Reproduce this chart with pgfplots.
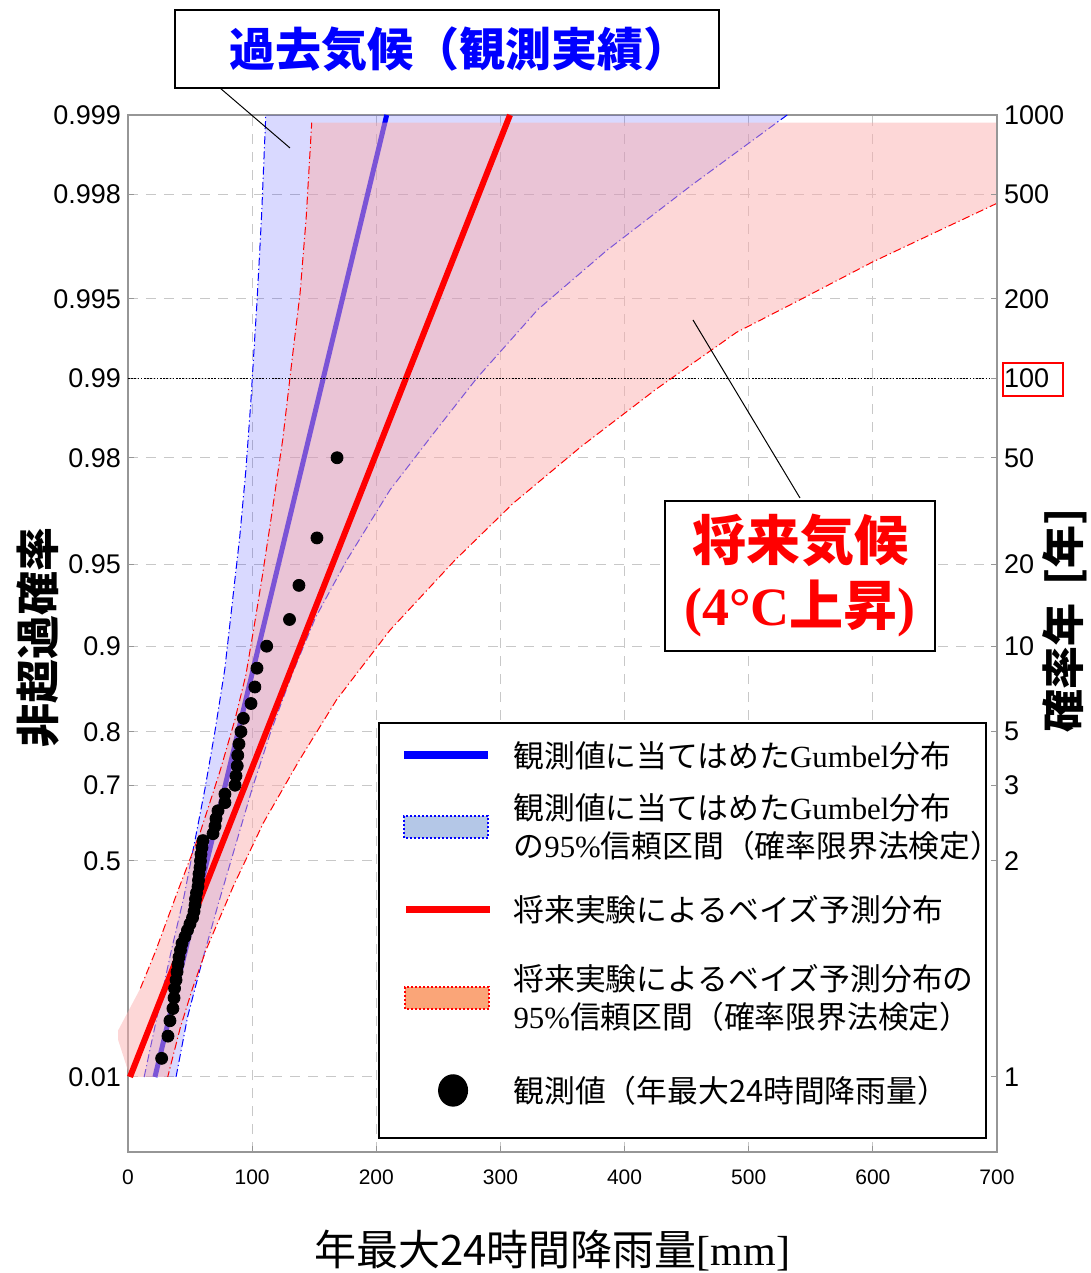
\documentclass[border=0pt]{standalone}
\usepackage{fontspec}
\setmainfont{Liberation Serif}
\setsansfont{Liberation Sans}
\newfontfamily\jp{Noto Sans CJK JP}
\usepackage{pgfplots}
\pgfplotsset{compat=1.18}
\definecolor{bandred}{RGB}{251,173,173}
\definecolor{gridgray}{RGB}{200,200,200}
\definecolor{framegray}{RGB}{150,150,150}
\definecolor{legblue}{RGB}{180,199,231}
\definecolor{legred}{RGB}{250,165,120}
\begin{document}
\begin{tikzpicture}
\begin{axis}[
  at={(0pt,0pt)}, anchor=south west,
  scale only axis, width=434.5pt, height=518.5pt,
  xmin=0, xmax=700, ymin=-2.185, ymax=6.9073,
  clip=false,
  axis line style={framegray, line width=0.7pt},
  xtick={0,100,200,300,400,500,600,700},
  xticklabels={0,100,200,300,400,500,600,700},
  ytick={-1.5272,0.3665,1.0309,1.4999,2.2504,2.9702,3.9019,4.6001,5.2958,6.2136,6.9073},
  yticklabels={0.01,0.5,0.7,0.8,0.9,0.95,0.98,0.99,0.995,0.998,0.999},
  xtick pos=bottom, ytick pos=left,
  tick style={framegray, line width=0.5pt},
  major tick length=3pt, tick align=inside,
  grid=major,
  major grid style={gridgray, dash pattern=on 5pt off 4pt, line width=0.5pt},
  xticklabel style={font=\fontsize{10.5}{12}\selectfont\sffamily, yshift=-5.5pt},
  yticklabel style={font=\fontsize{13.5}{14}\selectfont\sffamily},
  xlabel={\jp 年最大24時間降雨量{\rmfamily [mm]}},
  xlabel style={font=\fontsize{21}{24}\selectfont, inner sep=0pt, at={(axis description cs:0.488,-0.0955)}, anchor=center},
  ylabel={\jp\bfseries 非超過確率},
  ylabel style={font=\fontsize{22}{24}\selectfont, inner sep=0pt, at={(axis description cs:-0.1036,0.4966)}, anchor=center},
  legend style={
    at={(axis description cs:0.988,0.4147)}, anchor=north east,
    draw=black, line width=1pt, fill=white,
    inner sep=0pt, row sep=0pt, column sep=0pt,
    nodes={inner sep=0pt, text depth=, text height=, font=\fontsize{15.4}{19}\selectfont\jp},
    /tikz/every odd column/.style={column sep=10pt},
  },
  legend cell align=left,
]
% blue 95% band (observed Gumbel fit)
\addplot[forget plot, draw=none, fill=blue, fill opacity=0.15] coordinates {
(13,-1.5272) (28,-0.765) (35,-0.414) (45,0.05) (54,0.55) (62,1.0) (70,1.5) (78,2.05) (85,2.726) (90,3.207) (95,3.8) (99,4.4) (101.5,4.847) (104,5.285) (107.5,6.0) (111,6.9073)
(531,6.9073) (455,6.3) (386,5.723) (330,5.2) (281,4.6) (245,4.1) (211,3.619) (176,3.0) (151,2.5) (132,2.0) (115,1.5) (100,1.0) (86.5,0.5) (73,0.0) (60,-0.5) (48,-1.0) (38.7,-1.5272)
} -- cycle;
\addplot[forget plot, blue, line width=0.5pt, dash pattern=on 4pt off 1.5pt on 0.6pt off 1.5pt] coordinates {
(13,-1.5272) (28,-0.765) (35,-0.414) (45,0.05) (54,0.55) (62,1.0) (70,1.5) (78,2.05) (85,2.726) (90,3.207) (95,3.8) (99,4.4) (101.5,4.847) (104,5.285) (107.5,6.0) (111,6.9073)};
\addplot[forget plot, blue, line width=0.5pt, dash pattern=on 4pt off 1.5pt on 0.6pt off 1.5pt] coordinates {
(531,6.9073) (455,6.3) (386,5.723) (330,5.2) (281,4.6) (245,4.1) (211,3.619) (176,3.0) (151,2.5) (132,2.0) (115,1.5) (100,1.0) (86.5,0.5) (73,0.0) (60,-0.5) (48,-1.0) (38.7,-1.5272)};
% Gumbel fit line
\addplot[forget plot, blue, line width=2.5pt] coordinates {(21.7,-1.5272) (208.4,6.9073)};
% red 95% band (future)
\addplot[forget plot, draw=none, fill=bandred, fill opacity=0.49] coordinates {
(-8,-1.2) (-8,-1.12) (10,-0.75) (22,-0.43) (40,0.1) (58,0.612) (74,1.15) (86,1.6) (95,2.0) (102,2.45) (108,2.85) (115,3.35) (124.6,4.058) (133.1,4.847) (138.6,5.344) (143.5,6.0) (148,6.84)
(700,6.84) (700,6.133) (600,5.62) (541,5.285) (490,5.0) (425,4.5) (365,4.0) (310,3.5) (263,3.0) (211,2.39) (168,1.78) (138,1.25) (109,0.7) (85,0.15) (63,-0.41) (52,-0.75) (42,-1.1) (32,-1.5272) (1.6,-1.5272)
} -- cycle;
\addplot[forget plot, red, line width=0.5pt, dash pattern=on 4pt off 1.5pt on 0.6pt off 1.5pt] coordinates {
(10,-0.75) (22,-0.43) (40,0.1) (58,0.612) (74,1.15) (86,1.6) (95,2.0) (102,2.45) (108,2.85) (115,3.35) (124.6,4.058) (133.1,4.847) (138.6,5.344) (143.5,6.0) (148,6.84)};
\addplot[forget plot, red, line width=0.5pt, dash pattern=on 4pt off 1.5pt on 0.6pt off 1.5pt] coordinates {
(700,6.133) (600,5.62) (541,5.285) (490,5.0) (425,4.5) (365,4.0) (310,3.5) (263,3.0) (211,2.39) (168,1.78) (138,1.25) (109,0.7) (85,0.15) (63,-0.41) (52,-0.75) (42,-1.1) (32,-1.5272)};
% Bayesian predictive distribution line
\addplot[forget plot, red, line width=3pt] coordinates {(1.6,-1.5272) (307.7,6.9073)};
% 100-year line
\addplot[forget plot, black, line width=0.6pt, dash pattern=on 0.8pt off 0.8pt] coordinates {(0,4.6001) (700,4.6001)};
% observations (Weibull plotting position i/50)
\addplot[forget plot, only marks, mark=*, mark size=3pt, black] coordinates {
(27.1,-1.364) (32.2,-1.169) (33.8,-1.034) (36.2,-0.927) (37.1,-0.834) (37.5,-0.751) (38.7,-0.677) (39.5,-0.606) (40.3,-0.539) (41.1,-0.476)
(42.3,-0.415) (43.5,-0.356) (45.9,-0.298) (47.9,-0.241) (49.9,-0.186) (52.0,-0.131) (53.2,-0.076) (54.0,-0.021) (54.4,0.033) (55.2,0.087)
(56.4,0.142) (56.8,0.197) (57.2,0.253) (58.0,0.309) (58.4,0.367) (58.8,0.425) (59.6,0.484) (60.4,0.545) (68.5,0.606) (70.1,0.672)
(70.9,0.738) (72.5,0.807) (78.1,0.878) (78.1,0.953) (86.2,1.031) (87.0,1.113) (88.0,1.200) (88.4,1.293) (89.4,1.392) (91.0,1.500)
(92.9,1.617) (99.1,1.747) (102.2,1.892) (103.9,2.057) (111.7,2.250) (130.1,2.484) (137.7,2.783) (152.2,3.199) (168.4,3.902)};
% legend
\addlegendimage{legend image code/.code={\path[draw=none] (0pt,0pt) -- (54.5pt,0pt); \draw[blue, line width=4pt] (12.5pt,0pt) -- (54.5pt,0pt);}}
\addlegendentry{\parbox[c][32.5pt][c]{236pt}{観測値に当てはめた{\rmfamily Gumbel}分布}}
\addlegendimage{legend image code/.code={\path[draw=none] (0pt,0pt) -- (54.5pt,0pt); \draw[blue, densely dotted, line width=1pt, fill=legblue] (12.5pt,-5.5pt) rectangle (54.5pt,5.5pt);}}
\addlegendentry{\parbox[c][39.5pt][c]{236pt}{観測値に当てはめた{\rmfamily Gumbel}分布\\の{\rmfamily 95\%}信頼区間（確率限界法検定）}}
\addlegendimage{legend image code/.code={\path[draw=none] (0pt,0pt) -- (54.5pt,0pt); \draw[red, line width=3.5pt] (13.5pt,0pt) -- (55.5pt,0pt);}}
\addlegendentry{\parbox[c][43pt][c]{236pt}{将来実験によるベイズ予測分布}}
\addlegendimage{legend image code/.code={\path[draw=none] (0pt,0pt) -- (54.5pt,0pt); \draw[red, densely dotted, line width=1pt, fill=legred] (13pt,-5.5pt) rectangle (55pt,5.5pt);}}
\addlegendentry{\parbox[c][45pt][c]{236pt}{将来実験によるベイズ予測分布の\\{\rmfamily 95\%}信頼区間（確率限界法検定）}}
\addlegendimage{legend image code/.code={\path[draw=none] (0pt,0pt) -- (54.5pt,0pt); \fill[black] (37pt,0pt) ellipse [x radius=7pt, y radius=7.6pt];}}
\addlegendentry{\parbox[c][47.5pt][c]{236pt}{観測値（年最大24時間降雨量）}}
\end{axis}
\begin{axis}[
  at={(0pt,0pt)}, anchor=south west,
  scale only axis, width=434.5pt, height=518.5pt,
  xmin=0, xmax=700, ymin=-2.185, ymax=6.9073,
  axis x line=none, axis y line*=right,
  axis line style={framegray, line width=0.7pt},
  ytick={-1.5272,0.3665,1.0309,1.4999,2.2504,2.9702,3.9019,4.6001,5.2958,6.2136,6.9073},
  yticklabels={1,2,3,5,10,20,50,100,200,500,1000},
  tick style={framegray, line width=0.5pt},
  major tick length=3pt, tick align=inside,
  yticklabel style={font=\fontsize{13.5}{14}\selectfont\sffamily},
  ylabel={\jp\bfseries 確率年\hspace{9pt}[年]},
  ylabel style={font=\fontsize{21.5}{24}\selectfont, inner sep=0pt, at={(axis description cs:1.0785,0.513)}, anchor=center},
]
\addplot[draw=none, forget plot] coordinates {(0,0) (700,0)};
\end{axis}
\begin{scope}[shift={(-64pt,576pt)}, x=0.5pt, y=-0.5pt]
\path (0,0) rectangle (1091,1273);
\draw[black, line width=0.5pt] (220,88) -- (290,148);
\node[draw=black, line width=0.8pt, fill=white, minimum width=272pt, minimum height=39pt, inner sep=0pt] at (447,49) {};
\node[text=blue, inner sep=0pt, font=\fontsize{23}{24}\selectfont\jp\bfseries] at (459,49) {過去気候（観測実績）};
\draw[black, line width=0.5pt] (800,498) -- (693,320);
\node[draw=black, line width=0.8pt, fill=white, minimum width=135pt, minimum height=75pt, inner sep=0pt, align=center, text=red, font=\fontsize{27}{32.5}\selectfont\jp\bfseries] at (800,576) {将来気候\\{\rmfamily\bfseries (4°C}上昇{\rmfamily\bfseries )}};
\draw[red, line width=1pt] (1003,363) rectangle (1063,396);
\end{scope}
\end{tikzpicture}
\end{document}
